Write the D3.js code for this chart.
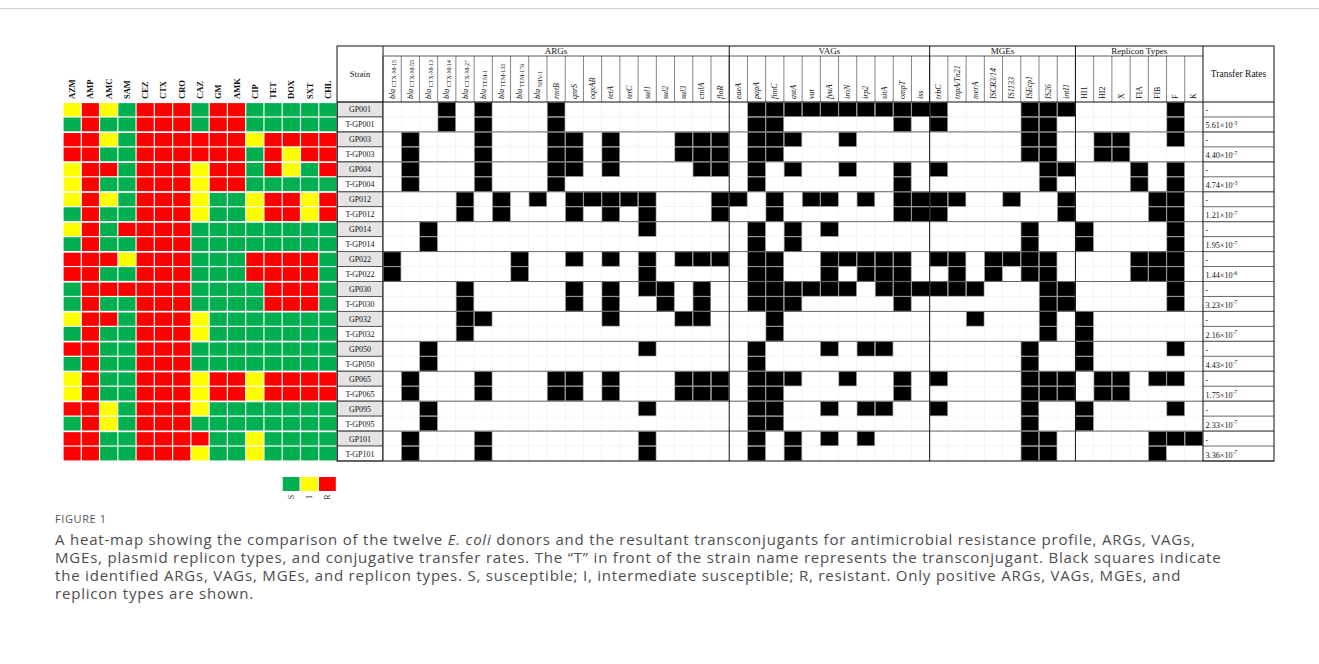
<!DOCTYPE html>
<html>
<head>
<meta charset="utf-8">
<script src="https://cdn.jsdelivr.net/npm/d3@7"></script>
<style>
    body { margin: 0; background: #fff; }
    svg { display: block; }
</style>
</head>
<body>
<svg id="chart"></svg>
<script>
const width = 1319;
const height = 664;

const svg = d3.select("#chart")
    .attr("width", width)
    .attr("height", height);

// ---- data ----
const antibiotics = ["AZM", "AMP", "AMC", "SAM", "CEZ", "CTX", "CRO", "CAZ", "GM", "AMK", "CIP", "TET", "DOX", "SXT", "CHL"];

const strains = ["GP001", "T-GP001", "GP003", "T-GP003", "GP004", "T-GP004", "GP012", "T-GP012",
    "GP014", "T-GP014", "GP022", "T-GP022", "GP030", "T-GP030", "GP032", "T-GP032",
    "GP050", "T-GP050", "GP065", "T-GP065", "GP095", "T-GP095", "GP101", "T-GP101"];

// one letter per antibiotic, same order as above
const astProfiles = [
    "IRISRRRSRRSSSSS", "SRSSRRRSRRSSSSS",
    "RRISRRRRRRIRRRR", "RRSSRRRRRRSRIRR",
    "IRRSRRRIRRSRISR", "IRSSRRRIRRSSSSS",
    "IRISRRRISSIRRIR", "SRSSRRRISSIRRIR",
    "IRSRRRRSSSSSSSS", "SRSSRRRSSSSSSSS",
    "RRRIRRRSSSRRRRS", "RRSSRRRSSSRRRRS",
    "SRRRRRRSSSSRRRS", "SRSSRRRSSSSRRRS",
    "IRRSRRRISSSSSSS", "SRSSRRRISSSSSSS",
    "RRSSRRRSSSSSSSS", "SRSSRRRSSSSSSSS",
    "IRSSRRRIRRIRRRR", "IRSSRRRIRRIRRRR",
    "RRISRRRISSSSSSS", "SRISRRRSSSSSSSS",
    "RRSSRRRRSSISSSS", "RRSSRRRISSISSSS"
];

const argGenes = ["bla_CTX-M-15", "bla_CTX-M-55", "bla_CTX-M-13", "bla_CTX-M-14", "bla_CTX-M-27",
    "bla_TEM-1", "bla_TEM-135", "bla_TEM-176", "bla_SHV-1", "rmtB", "qnrS", "oqxAB",
    "tetA", "tetC", "sul1", "sul2", "sul3", "cmlA", "floR"];
const vagGenes = ["eaeA", "papA", "fimC", "astA", "vat", "fyuA", "iroN", "irp2", "sitA", "ompT", "iss"];
const mgeGenes = ["trbC", "tnpA/Tn21", "merA", "ISCR3/14", "IS1133", "ISEcp1", "IS26", "intI1"];
const replicons = ["HI1", "HI2", "X", "FIA", "FIB", "F", "K"];

// positive genes / replicons for each strain
const positives = [
    ["bla_CTX-M-14", "bla_TEM-1", "rmtB", "papA", "fimC", "astA", "vat", "fyuA", "iroN", "irp2", "sitA", "ompT", "iss", "trbC", "ISEcp1", "IS26", "intI1", "F"],
    ["bla_CTX-M-14", "bla_TEM-1", "rmtB", "papA", "fimC", "ompT", "trbC", "ISEcp1", "IS26", "F"],
    ["bla_CTX-M-55", "bla_TEM-1", "rmtB", "qnrS", "tetA", "sul3", "cmlA", "floR", "papA", "fimC", "astA", "iroN", "ISEcp1", "IS26", "HI2", "X", "F"],
    ["bla_CTX-M-55", "bla_TEM-1", "rmtB", "qnrS", "tetA", "sul3", "cmlA", "floR", "papA", "fimC", "ISEcp1", "IS26", "HI2", "X"],
    ["bla_CTX-M-55", "bla_TEM-1", "rmtB", "qnrS", "tetA", "cmlA", "floR", "papA", "astA", "iroN", "ompT", "trbC", "IS26", "intI1", "FIA", "F"],
    ["bla_CTX-M-55", "bla_TEM-1", "rmtB", "papA", "ompT", "IS26", "FIA", "F"],
    ["bla_CTX-M-27", "bla_TEM-135", "bla_SHV-1", "qnrS", "oqxAB", "tetA", "tetC", "sul1", "floR", "eaeA", "fimC", "vat", "fyuA", "irp2", "ompT", "iss", "trbC", "tnpA/Tn21", "IS1133", "intI1", "FIB", "F"],
    ["bla_CTX-M-27", "bla_TEM-135", "qnrS", "tetA", "sul1", "floR", "fimC", "ompT", "iss", "trbC", "intI1", "FIB", "F"],
    ["bla_CTX-M-13", "sul1", "papA", "astA", "fyuA", "ISEcp1", "HI1", "F"],
    ["bla_CTX-M-13", "papA", "astA", "ISEcp1", "HI1", "F"],
    ["bla_CTX-M-15", "bla_TEM-176", "qnrS", "tetA", "sul1", "sul3", "cmlA", "floR", "papA", "fimC", "fyuA", "iroN", "irp2", "sitA", "ompT", "trbC", "tnpA/Tn21", "ISCR3/14", "IS1133", "ISEcp1", "IS26", "FIA", "FIB", "F"],
    ["bla_CTX-M-15", "bla_TEM-176", "sul1", "papA", "fimC", "fyuA", "irp2", "sitA", "ompT", "tnpA/Tn21", "ISCR3/14", "ISEcp1", "IS26", "FIA", "FIB", "F"],
    ["bla_CTX-M-27", "qnrS", "tetA", "sul1", "sul2", "cmlA", "papA", "fimC", "astA", "vat", "fyuA", "iroN", "sitA", "ompT", "iss", "trbC", "tnpA/Tn21", "merA", "IS26", "intI1", "F"],
    ["bla_CTX-M-27", "qnrS", "tetA", "sul2", "cmlA", "papA", "fimC", "astA", "ompT", "IS26", "intI1", "F"],
    ["bla_CTX-M-27", "bla_TEM-1", "tetA", "sul3", "cmlA", "fimC", "merA", "IS26", "HI1"],
    ["bla_CTX-M-27", "fimC", "IS26", "HI1"],
    ["bla_CTX-M-13", "sul1", "papA", "fyuA", "irp2", "sitA", "ISEcp1", "HI1", "F"],
    ["bla_CTX-M-13", "papA", "ISEcp1", "HI1"],
    ["bla_CTX-M-55", "bla_TEM-1", "rmtB", "qnrS", "tetA", "sul3", "cmlA", "floR", "papA", "fimC", "astA", "iroN", "ompT", "trbC", "ISEcp1", "IS26", "intI1", "HI2", "X", "FIB", "F"],
    ["bla_CTX-M-55", "bla_TEM-1", "rmtB", "qnrS", "tetA", "sul3", "cmlA", "floR", "papA", "fimC", "ompT", "ISEcp1", "IS26", "intI1", "HI2", "X"],
    ["bla_CTX-M-13", "sul1", "papA", "fimC", "fyuA", "irp2", "sitA", "trbC", "ISEcp1", "HI1", "F"],
    ["bla_CTX-M-13", "papA", "fimC", "ISEcp1", "HI1"],
    ["bla_CTX-M-55", "bla_TEM-1", "sul1", "papA", "astA", "fyuA", "irp2", "ISEcp1", "IS26", "FIB", "F", "K"],
    ["bla_CTX-M-55", "bla_TEM-1", "sul1", "papA", "astA", "ISEcp1", "IS26", "FIB"]
];

// [mantissa, exponent], null = "-"
const transferRates = [
    null, [5.61, -3], null, [4.40, -7], null, [4.74, -3], null, [1.21, -7],
    null, [1.95, -7], null, [1.44, -6], null, [3.23, -7], null, [2.16, -7],
    null, [4.43, -7], null, [1.75, -7], null, [2.33, -7], null, [3.36, -7]
];

const astLevels = ["S", "I", "R"];
const astColors = ["#00b050", "#ffff00", "#ff0000"];

const captionLines = [
    ["A heat-map showing the comparison of the twelve ", ["E. coli", true], " donors and the resultant transconjugants for antimicrobial resistance profile, ARGs, VAGs,"],
    ["MGEs, plasmid replicon types, and conjugative transfer rates. The \u201cT\u201d in front of the strain name represents the transconjugant. Black squares indicate"],
    ["the identified ARGs, VAGs, MGEs, and replicon types. S, susceptible; I, intermediate susceptible; R, resistant. Only positive ARGs, VAGs, MGEs, and"],
    ["replicon types are shown."]
];

// ---- layout ----
const serif = "'Liberation Serif', 'Times New Roman', serif";
const tableTop = 46;
const groupBottom = 56;
const headBottom = 102;
const bodyBottom = 461;
const tableLeft = 337;
const geneLeft = 383;
const geneRight = 1203;
const tableRight = 1274;

const groups = [
    { name: "ARGs", genes: argGenes },
    { name: "VAGs", genes: vagGenes },
    { name: "MGEs", genes: mgeGenes },
    { name: "Replicon Types", genes: replicons }
];
const allGenes = groups.flatMap(g => g.genes);

const xHeat = d3.scaleBand().domain(antibiotics).range([63, tableLeft]);
const y = d3.scaleBand().domain(strains).range([headBottom, bodyBottom]);
const xGene = d3.scaleBand().domain(allGenes).range([geneLeft, geneRight]);
const color = d3.scaleOrdinal().domain(astLevels).range(astColors);

// top rule
svg.append("line")
    .attr("x1", 0).attr("x2", width)
    .attr("y1", 8.5).attr("y2", 8.5)
    .attr("stroke", "#d0d0d0");

// ---- AST heat map ----
const heat = svg.append("g");
const cells = [];
strains.forEach((s, i) => {
    antibiotics.forEach((a, j) => {
        cells.push({ strain: s, ab: a, value: astProfiles[i][j], donor: i % 2 === 0 });
    });
});

heat.selectAll("rect")
    .data(cells)
    .enter()
    .append("rect")
    .attr("x", d => xHeat(d.ab) + 0.6)
    .attr("y", d => y(d.strain) + (d.donor ? 1.1 : 0.6))
    .attr("width", xHeat.bandwidth() - 1.2)
    .attr("height", d => y.bandwidth() - (d.donor ? 1.7 : 1.2))
    .attr("fill", d => color(d.value));

heat.selectAll(".ab-label")
    .data(antibiotics)
    .enter()
    .append("text")
    .attr("class", "ab-label")
    .attr("transform", d => `translate(${xHeat(d) + xHeat.bandwidth() / 2 + 3},99) rotate(-90)`)
    .attr("font-family", serif)
    .attr("font-weight", "bold")
    .attr("font-size", 8.5)
    .attr("fill", "#111")
    .text(d => d);

// legend
const xLegend = d3.scaleBand().domain(astLevels).range([282, 336.5]);
const legend = svg.append("g");
legend.selectAll("rect")
    .data(astLevels)
    .enter()
    .append("rect")
    .attr("x", d => xLegend(d) + 0.7)
    .attr("y", 477)
    .attr("width", xLegend.bandwidth() - 1.4)
    .attr("height", 14)
    .attr("fill", d => color(d));
legend.selectAll("text")
    .data(astLevels)
    .enter()
    .append("text")
    .attr("transform", d => `translate(${xLegend(d) + xLegend.bandwidth() / 2 + 2.5},497) rotate(-90)`)
    .attr("text-anchor", "middle")
    .attr("font-family", serif)
    .attr("font-size", 8)
    .attr("fill", "#333")
    .text(d => d);

// ---- table ----
const table = svg.append("g");

// strain column
table.selectAll(".strain-cell")
    .data(strains)
    .enter()
    .append("rect")
    .attr("class", "strain-cell")
    .attr("x", tableLeft + 0.5)
    .attr("y", d => y(d))
    .attr("width", geneLeft - tableLeft - 1)
    .attr("height", y.bandwidth())
    .attr("fill", (d, i) => i % 2 === 0 ? "#e4e4e4" : "#fff")
    .attr("stroke", "#444")
    .attr("stroke-width", 0.8);

table.selectAll(".strain-label")
    .data(strains)
    .enter()
    .append("text")
    .attr("class", "strain-label")
    .attr("x", (tableLeft + geneLeft) / 2)
    .attr("y", d => y(d) + y.bandwidth() / 2 + 3)
    .attr("text-anchor", "middle")
    .attr("font-family", serif)
    .attr("font-size", 8)
    .attr("fill", "#111")
    .text(d => d);

// presence grid
const grid = [];
strains.forEach((s, i) => {
    const pos = new Set(positives[i]);
    allGenes.forEach(g => grid.push({ strain: s, gene: g, on: pos.has(g) }));
});

table.selectAll(".gene-cell")
    .data(grid)
    .enter()
    .append("rect")
    .attr("class", "gene-cell")
    .attr("x", d => xGene(d.gene))
    .attr("y", d => y(d.strain))
    .attr("width", xGene.bandwidth())
    .attr("height", y.bandwidth())
    .attr("fill", "#fff")
    .attr("stroke", "#efefef")
    .attr("stroke-width", 0.5);

table.selectAll(".gene-on")
    .data(grid.filter(d => d.on))
    .enter()
    .append("rect")
    .attr("class", "gene-on")
    .attr("x", d => xGene(d.gene) + 0.3)
    .attr("y", d => y(d.strain) + 0.3)
    .attr("width", xGene.bandwidth() - 0.6)
    .attr("height", y.bandwidth() - 0.6)
    .attr("fill", "#000")
    .attr("stroke", "#9a9a9a")
    .attr("stroke-width", 0.6);

// transfer rate column
table.selectAll(".rate-row")
    .data(strains)
    .enter()
    .append("line")
    .attr("class", "rate-row")
    .attr("x1", geneRight).attr("x2", tableRight)
    .attr("y1", d => y(d) + y.bandwidth())
    .attr("y2", d => y(d) + y.bandwidth())
    .attr("stroke", "#444")
    .attr("stroke-width", 0.8);

const rateText = table.selectAll(".rate")
    .data(strains)
    .enter()
    .append("text")
    .attr("class", "rate")
    .attr("x", geneRight + 2.5)
    .attr("y", d => y(d) + y.bandwidth() / 2 + 4)
    .attr("font-family", serif)
    .attr("font-size", 8.2)
    .attr("fill", "#111");

rateText.each(function (d, i) {
    const r = transferRates[i];
    const t = d3.select(this);
    if (!r) {
        t.text("-");
        return;
    }
    t.append("tspan").text(`${r[0].toFixed(2)}\u00d710`);
    t.append("tspan").attr("dy", -3.5).attr("font-size", 5.5).text(r[1]);
});

// pair separators
const pairStarts = strains.filter((s, i) => i % 2 === 0 && i > 0);
table.selectAll(".pair-line")
    .data(pairStarts)
    .enter()
    .append("line")
    .attr("class", "pair-line")
    .attr("x1", tableLeft).attr("x2", tableRight)
    .attr("y1", d => y(d))
    .attr("y2", d => y(d))
    .attr("stroke", "#666")
    .attr("stroke-width", 1);

// header: column rules in label row
table.selectAll(".col-rule")
    .data(allGenes)
    .enter()
    .append("line")
    .attr("class", "col-rule")
    .attr("x1", d => xGene(d)).attr("x2", d => xGene(d))
    .attr("y1", groupBottom).attr("y2", headBottom)
    .attr("stroke", "#333")
    .attr("stroke-width", 0.6);

table.append("line")
    .attr("x1", geneLeft).attr("x2", geneRight)
    .attr("y1", groupBottom).attr("y2", groupBottom)
    .attr("stroke", "#333")
    .attr("stroke-width", 0.8);

table.append("line")
    .attr("x1", tableLeft).attr("x2", tableRight)
    .attr("y1", headBottom).attr("y2", headBottom)
    .attr("stroke", "#111")
    .attr("stroke-width", 1);

// group boundaries
const groupEdges = [geneLeft];
groups.forEach(g => groupEdges.push(xGene(g.genes[g.genes.length - 1]) + xGene.bandwidth()));
table.selectAll(".group-rule")
    .data(groupEdges)
    .enter()
    .append("line")
    .attr("class", "group-rule")
    .attr("x1", d => d).attr("x2", d => d)
    .attr("y1", tableTop).attr("y2", bodyBottom)
    .attr("stroke", "#111")
    .attr("stroke-width", 1);

table.selectAll(".group-label")
    .data(groups)
    .enter()
    .append("text")
    .attr("class", "group-label")
    .attr("x", g => (xGene(g.genes[0]) + xGene(g.genes[g.genes.length - 1]) + xGene.bandwidth()) / 2)
    .attr("y", groupBottom - 2.5)
    .attr("text-anchor", "middle")
    .attr("font-family", serif)
    .attr("font-size", 9)
    .attr("fill", "#111")
    .text(g => g.name);

// gene labels
const geneLabels = table.selectAll(".gene-label")
    .data(allGenes)
    .enter()
    .append("text")
    .attr("class", "gene-label")
    .attr("transform", d => `translate(${xGene(d) + xGene.bandwidth() / 2 + 2.5},99) rotate(-90)`)
    .attr("font-family", serif)
    .attr("font-size", 8)
    .attr("fill", "#111");

geneLabels.each(function (d) {
    const t = d3.select(this);
    if (replicons.includes(d)) {
        t.text(d);
    } else if (d.startsWith("bla_")) {
        t.append("tspan").attr("font-style", "italic").text("bla");
        t.append("tspan").attr("font-size", 6).attr("dy", 1.5).text(" " + d.slice(4));
    } else {
        t.attr("font-style", "italic").text(d);
    }
});

// spanning headers
table.append("text")
    .attr("x", (tableLeft + geneLeft) / 2)
    .attr("y", (tableTop + headBottom) / 2 + 3)
    .attr("text-anchor", "middle")
    .attr("font-family", serif)
    .attr("font-size", 8.5)
    .attr("fill", "#111")
    .text("Strain");

table.append("text")
    .attr("x", (geneRight + tableRight) / 2)
    .attr("y", (tableTop + headBottom) / 2 + 3)
    .attr("text-anchor", "middle")
    .attr("font-family", serif)
    .attr("font-size", 9.5)
    .attr("fill", "#111")
    .text("Transfer Rates");

// outer frame
table.append("rect")
    .attr("x", tableLeft).attr("y", tableTop)
    .attr("width", tableRight - tableLeft)
    .attr("height", bodyBottom - tableTop)
    .attr("fill", "none")
    .attr("stroke", "#111")
    .attr("stroke-width", 1);

// ---- caption ----
svg.append("text")
    .attr("x", 55)
    .attr("y", 523)
    .attr("font-family", "'Open Sans', sans-serif")
    .attr("font-size", 11)
    .attr("letter-spacing", 0.6)
    .attr("fill", "#555")
    .text("FIGURE 1");

const caption = svg.append("text")
    .attr("font-family", "'Open Sans', sans-serif")
    .attr("font-size", 15)
    .attr("letter-spacing", 0.8)
    .attr("fill", "#4d4d4d");

captionLines.forEach((line, i) => {
    const row = caption.append("tspan")
        .attr("x", 55)
        .attr("y", 545 + i * 18);
    line.forEach(part => {
        if (Array.isArray(part)) {
            row.append("tspan").attr("font-style", "italic").text(part[0]);
        } else {
            row.append("tspan").text(part);
        }
    });
});
</script>
</body>
</html>
